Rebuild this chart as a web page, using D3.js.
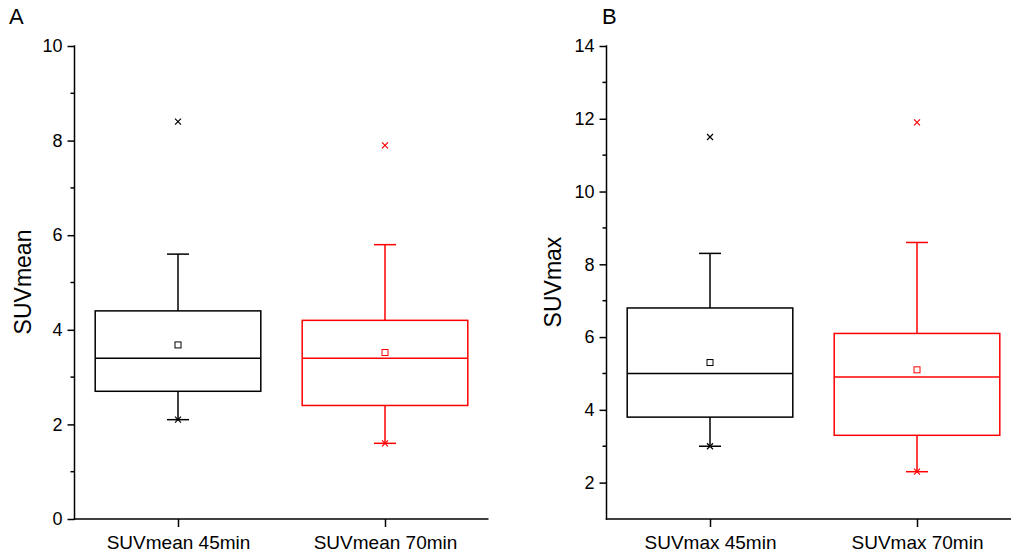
<!DOCTYPE html>
<html>
<head>
<meta charset="utf-8">
<script src="https://cdn.jsdelivr.net/npm/d3@7"></script>
<style>
  html, body { margin: 0; padding: 0; background: #fff; }
  svg { display: block; font-family: "Liberation Sans", Arial, sans-serif; }
</style>
</head>
<body>
<svg id="chart" width="1011" height="557"></svg>
<script>
// Box statistics per group: quartiles, whisker ends, mean, min and max
const categoriesA = ["SUVmean 45min", "SUVmean 70min"];
const categoriesB = ["SUVmax 45min", "SUVmax 70min"];
const seriesColors = ["#000000", "#FF0000"];

const q1A      = [2.7, 2.4];
const medianA  = [3.4, 3.4];
const q3A      = [4.4, 4.2];
const whLowA   = [2.1, 1.6];
const whHighA  = [5.6, 5.8];
const meanA    = [3.68, 3.52];
const minA     = [2.1, 1.6];
const maxA     = [8.4, 7.9];

const q1B      = [3.8, 3.3];
const medianB  = [5.0, 4.9];
const q3B      = [6.8, 6.1];
const whLowB   = [3.0, 2.3];
const whHighB  = [8.3, 8.6];
const meanB    = [5.3, 5.1];
const minB     = [3.0, 2.3];
const maxB     = [11.5, 11.9];

const yTicksA = [0, 2, 4, 6, 8, 10];
const yMinorA = [1, 3, 5, 7, 9];
const yTicksB = [2, 4, 6, 8, 10, 12, 14];
const yMinorB = [3, 5, 7, 9, 11, 13];

const svg = d3.select("#chart");

function buildGroups(cats, q1, med, q3, wl, wh, mean, mn, mx) {
  return cats.map((c, i) => ({
    cat: c, pos: i + 1, color: seriesColors[i],
    q1: q1[i], med: med[i], q3: q3[i], wl: wl[i], wh: wh[i],
    mean: mean[i], min: mn[i], max: mx[i]
  }));
}

function drawPanel(cfg) {
  const g = svg.append("g");
  const x = d3.scaleLinear().domain([0.5, 2.5]).range([cfg.left, cfg.left + 414]);
  const y = d3.scaleLinear().domain(cfg.yDomain).range([519, 46]);
  const boxW = x(1.4) - x(0.6);
  const capW = 22;

  // y axis with outward major ticks
  const yAxis = d3.axisLeft(y).tickValues(cfg.yTicks).tickSize(7).tickPadding(5)
    .tickFormat(d3.format("d"));
  const ya = g.append("g").attr("transform", `translate(${cfg.left},0)`).call(yAxis);
  ya.select(".domain").remove();
  ya.selectAll(".tick line").attr("stroke", "#000").attr("stroke-width", 1.5);
  ya.selectAll(".tick text").attr("font-size", 18).attr("fill", "#000")
    .attr("font-family", "'Liberation Sans', Arial, sans-serif");
  // minor ticks
  g.append("g").selectAll("line").data(cfg.yMinor).join("line")
    .attr("x1", cfg.left - 4).attr("x2", cfg.left)
    .attr("y1", d => y(d)).attr("y2", d => y(d))
    .attr("stroke", "#000").attr("stroke-width", 1.5);
  g.append("line")
    .attr("x1", cfg.left).attr("x2", cfg.left)
    .attr("y1", y.range()[1] - 0.75).attr("y2", 519.75)
    .attr("stroke", "#000").attr("stroke-width", 1.5);

  // x axis with category ticks
  const xAxis = d3.axisBottom(x).tickValues([1, 2]).tickSize(8).tickPadding(9)
    .tickFormat(d => cfg.cats[d - 1]);
  const xa = g.append("g").attr("transform", "translate(0,519)").call(xAxis);
  xa.select(".domain").remove();
  xa.selectAll(".tick line").attr("stroke", "#000").attr("stroke-width", 1.5);
  xa.selectAll(".tick text").attr("font-size", 19).attr("fill", "#000")
    .attr("font-family", "'Liberation Sans', Arial, sans-serif");
  g.append("line")
    .attr("x1", cfg.left - 0.75).attr("x2", x(2.5))
    .attr("y1", 519).attr("y2", 519)
    .attr("stroke", "#000").attr("stroke-width", 1.5);

  // y title and panel letter
  g.append("text")
    .attr("transform", `translate(${cfg.titleX},282) rotate(-90)`)
    .attr("text-anchor", "middle").attr("font-size", 23).attr("fill", "#000")
    .text(cfg.title);
  g.append("text").attr("x", cfg.letterX).attr("y", 24)
    .attr("font-size", 22).attr("fill", "#000").text(cfg.letter);

  // boxes
  const groups = g.selectAll(".box").data(cfg.groups).join("g").attr("class", "box");
  groups.each(function (d) {
    const b = d3.select(this);
    const cx = x(d.pos);
    const st = { stroke: d.color, "stroke-width": 1.5, fill: "none" };
    const line = (x1, y1, x2, y2) => {
      const l = b.append("line").attr("x1", x1).attr("y1", y1).attr("x2", x2).attr("y2", y2);
      Object.entries(st).forEach(([k, v]) => l.attr(k, v));
    };
    // whiskers
    line(cx, y(d.q3), cx, y(d.wh));
    line(cx, y(d.q1), cx, y(d.wl));
    line(cx - capW / 2, y(d.wh), cx + capW / 2, y(d.wh));
    line(cx - capW / 2, y(d.wl), cx + capW / 2, y(d.wl));
    // box and median
    b.append("rect")
      .attr("x", cx - boxW / 2).attr("y", y(d.q3))
      .attr("width", boxW).attr("height", y(d.q1) - y(d.q3))
      .attr("fill", "none").attr("stroke", d.color).attr("stroke-width", 1.5);
    line(cx - boxW / 2, y(d.med), cx + boxW / 2, y(d.med));
    // mean square
    b.append("rect")
      .attr("x", cx - 3).attr("y", y(d.mean) - 3).attr("width", 6).attr("height", 6)
      .attr("fill", "none").attr("stroke", d.color).attr("stroke-width", 1);
    // min / max crosses
    [d.min, d.max].forEach(v => {
      const yy = y(v), s = 3;
      b.append("path")
        .attr("d", `M${cx - s},${yy - s}L${cx + s},${yy + s}M${cx - s},${yy + s}L${cx + s},${yy - s}`)
        .attr("stroke", d.color).attr("stroke-width", 1.2).attr("fill", "none");
    });
  });
}

drawPanel({
  left: 74.5, yDomain: [0, 10], yTicks: yTicksA, yMinor: yMinorA,
  cats: categoriesA, title: "SUVmean", titleX: 31, letter: "A", letterX: 9,
  groups: buildGroups(categoriesA, q1A, medianA, q3A, whLowA, whHighA, meanA, minA, maxA)
});
drawPanel({
  left: 606.5, yDomain: [1, 14], yTicks: yTicksB, yMinor: yMinorB,
  cats: categoriesB, title: "SUVmax", titleX: 561, letter: "B", letterX: 602,
  groups: buildGroups(categoriesB, q1B, medianB, q3B, whLowB, whHighB, meanB, minB, maxB)
});
</script>
</body>
</html>
